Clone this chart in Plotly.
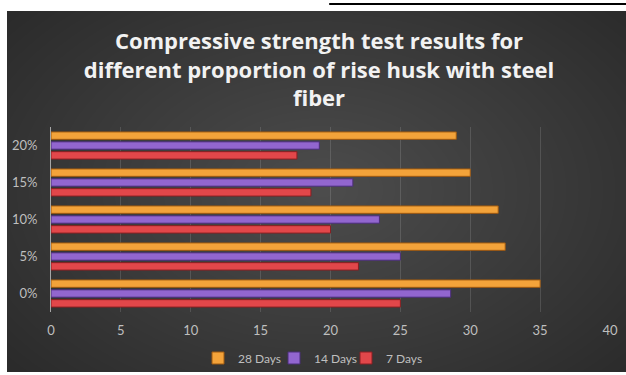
import plotly.graph_objects as go

categories = ["0%", "5%", "10%", "15%", "20%"]
days_7 = [25, 22, 20, 18.6, 17.6]
days_14 = [28.6, 25, 23.5, 21.6, 19.2]
days_28 = [35, 32.5, 32, 30, 29]
x_ticks = [0, 5, 10, 15, 20, 25, 30, 35, 40]

W, H = 626, 375
L, R, T, B = 51, 609.6, 127, 312  # plot area in px


def px(x):
    return (x - L) / (R - L)


def py(y):
    return (B - y) / (B - T)


fig = go.Figure()
series = [
    ("7 Days", days_7, "#e2474a", "#8a1f22", "legend3", 386),
    ("14 Days", days_14, "#9266cf", "#4b2e7a", "legend2", 314),
    ("28 Days", days_28, "#f3a33a", "#a05a10", "legend", 238),
]
legends = {}
for name, vals, col, edge, lg, tx in series:
    fig.add_trace(go.Bar(
        y=categories, x=vals, name=name, orientation="h", legend=lg,
        marker=dict(color=col, line=dict(color=edge, width=1)),
    ))
    legends[lg] = dict(
        orientation="h", x=(tx - 40) / W, xanchor="left", xref="container",
        y=1 - 358 / H, yanchor="middle", yref="container",
        font=dict(size=12, color="#bfbfbf"), bgcolor="rgba(0,0,0,0)",
        borderwidth=0,
    )

shapes = [dict(type="rect", xref="paper", yref="paper",
               x0=px(7), x1=px(626), y0=py(372), y1=py(11),
               fillcolor="#282828", line=dict(width=0), layer="below")]
cx, cy = 322, 190
n = 36
for i in range(n):
    f = 1 - i / n
    rx, ry = 440 * f, 290 * f
    shapes.append(dict(type="circle", xref="paper", yref="paper",
                       x0=px(cx - rx), x1=px(cx + rx),
                       y0=py(cy + ry), y1=py(cy - ry),
                       fillcolor="rgba(255,255,255,0.0095)",
                       line=dict(width=0), layer="below"))
# cover spill outside dark rect
shapes.append(dict(type="rect", xref="paper", yref="paper",
                   x0=px(-50), x1=px(7), y0=py(420), y1=py(-50),
                   fillcolor="white", line=dict(width=0), layer="below"))
shapes.append(dict(type="rect", xref="paper", yref="paper",
                   x0=px(-50), x1=px(700), y0=py(11), y1=py(-50),
                   fillcolor="white", line=dict(width=0), layer="below"))
shapes.append(dict(type="rect", xref="paper", yref="paper",
                   x0=px(-50), x1=px(700), y0=py(420), y1=py(372),
                   fillcolor="white", line=dict(width=0), layer="below"))
shapes.append(dict(type="rect", xref="paper", yref="paper",
                   x0=px(329), x1=px(626), y0=py(5), y1=py(3),
                   fillcolor="black", line=dict(width=0), layer="below"))

fig.update_layout(
    width=W, height=H,
    margin=dict(l=L, r=W - R, t=T, b=H - B, pad=0, autoexpand=False),
    paper_bgcolor="white", plot_bgcolor="rgba(0,0,0,0)",
    barmode="group", bargap=0.2, bargroupgap=0.25,
    shapes=shapes,
    font=dict(family="Lato", color="#bfbfbf", size=12),
    title=dict(
        text="Compressive strength test results for<br>different proportion of rise husk with steel<br>fiber",
        font=dict(family="Open Sans", size=22, color="#f2f2f2", weight="bold"),
        x=319 / W, xanchor="center", xref="container",
        y=1 - 49 / H, yanchor="middle", yref="container",
    ),
    xaxis=dict(range=[0, 40], tickvals=x_ticks, showgrid=True,
               gridcolor="rgba(255,255,255,0.13)", gridwidth=1,
               zeroline=False, showline=False, ticks="outside",
               ticklen=6, tickcolor="rgba(0,0,0,0)",
               tickfont=dict(size=13, color="#bfbfbf")),
    yaxis=dict(showline=True, linecolor="#a6a6a6", linewidth=1,
               showgrid=False, ticks="outside", ticklen=10,
               tickcolor="rgba(0,0,0,0)",
               tickfont=dict(size=13, color="#bfbfbf")),
    showlegend=True,
    **legends,
)

fig.write_html("out.html")
